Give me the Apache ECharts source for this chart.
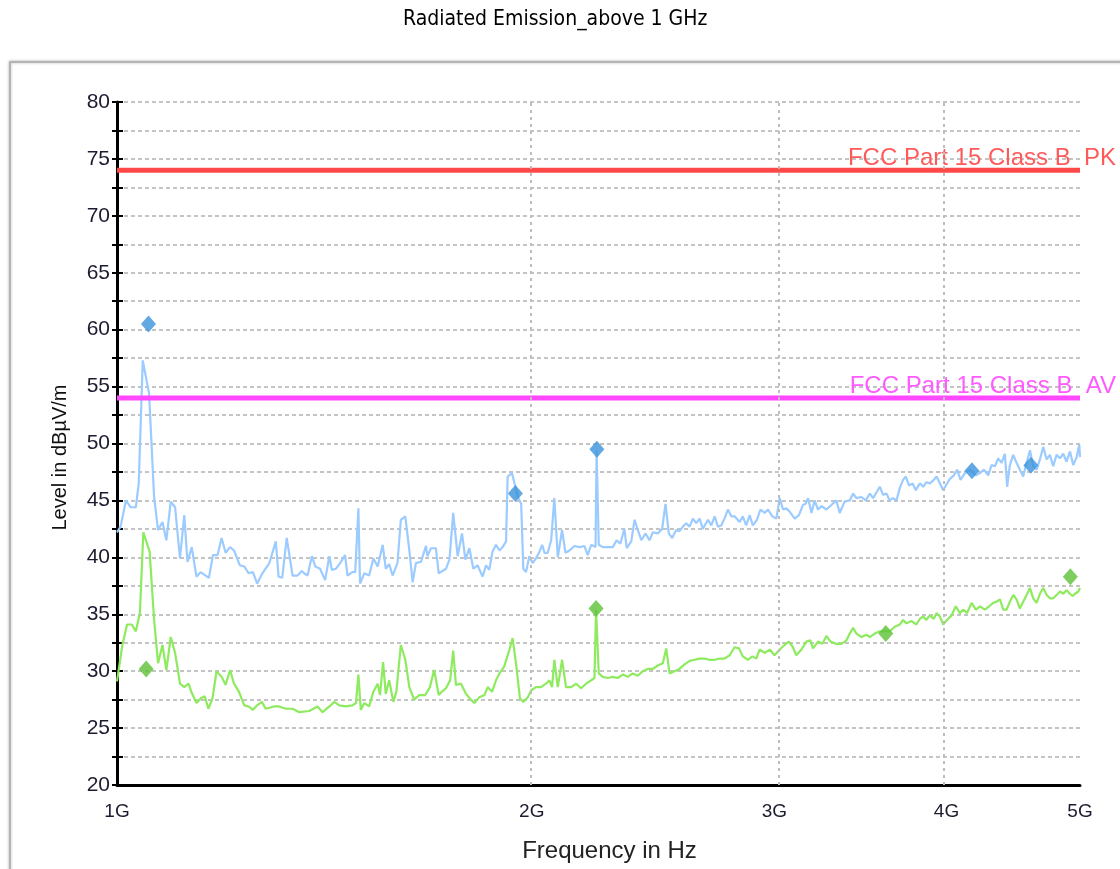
<!DOCTYPE html>
<html><head><meta charset="utf-8">
<script src="https://cdn.jsdelivr.net/npm/echarts@6/dist/echarts.min.js"></script>
<style>html,body{margin:0;padding:0;background:#fff;} #c{width:1120px;height:869px;}</style>
</head><body><div id="c"></div>
<script>
// Frequency in MHz, level in dBµV/m
const peakTrace = [[1000,42.2],[1006,42.7],[1015,45.0],[1023,44.4],[1032,44.4],[1037,46.5],[1044,57.3],[1055,54.4],[1064,45.3],[1071,42.4],[1079,43.1],[1086,41.5],[1094,44.9],[1102,44.4],[1111,39.9],[1119,43.7],[1125,39.6],[1133,40.9],[1142,38.3],[1150,38.7],[1166,38.2],[1174,40.2],[1183,40.2],[1191,41.7],[1199,40.4],[1208,40.9],[1216,40.6],[1228,39.3],[1237,39.2],[1246,38.6],[1255,38.7],[1264,37.7],[1275,38.6],[1290,39.5],[1304,41.4],[1310,38.3],[1318,38.2],[1328,41.7],[1341,38.4],[1352,38.4],[1362,38.8],[1367,38.6],[1375,38.4],[1385,40.1],[1393,39.2],[1404,39.0],[1416,38.0],[1426,40.1],[1432,38.9],[1442,39.0],[1454,39.6],[1464,40.2],[1470,38.4],[1482,38.7],[1489,38.7],[1497,44.3],[1501,37.7],[1512,38.6],[1524,38.4],[1535,39.9],[1546,39.2],[1559,41.1],[1567,39.0],[1576,39.4],[1585,38.4],[1598,39.5],[1607,43.3],[1619,43.6],[1630,40.6],[1639,37.8],[1648,39.5],[1662,39.6],[1676,41.0],[1680,40.1],[1690,40.8],[1704,40.8],[1712,38.6],[1733,39.0],[1743,39.8],[1754,43.9],[1767,40.1],[1780,42.1],[1790,39.8],[1802,40.8],[1814,39.0],[1827,39.3],[1842,38.3],[1853,39.3],[1863,38.9],[1873,40.5],[1884,41.1],[1895,40.6],[1905,40.9],[1916,41.4],[1921,47.1],[1935,47.4],[1954,45.3],[1965,44.7],[1972,39.0],[1981,38.7],[1992,40.1],[2003,39.5],[2014,39.9],[2026,40.5],[2035,41.1],[2043,40.4],[2054,40.4],[2066,41.5],[2077,45.2],[2089,40.0],[2104,42.4],[2116,40.4],[2130,40.6],[2148,41.0],[2166,40.9],[2184,41.0],[2196,40.2],[2209,41.1],[2225,40.9],[2229,49.4],[2237,41.1],[2252,40.9],[2271,40.9],[2290,40.9],[2305,41.5],[2319,41.2],[2335,42.5],[2344,40.8],[2362,41.4],[2375,43.3],[2388,42.4],[2402,41.5],[2419,42.1],[2435,41.5],[2449,42.2],[2469,42.1],[2487,42.5],[2501,44.7],[2515,42.1],[2529,41.7],[2546,42.4],[2560,42.3],[2575,42.7],[2589,43.0],[2604,42.7],[2618,43.4],[2633,43.0],[2648,43.4],[2662,42.5],[2685,43.3],[2700,42.8],[2715,43.6],[2730,42.7],[2745,42.8],[2760,43.4],[2776,44.2],[2792,43.6],[2807,43.6],[2831,43.1],[2846,43.6],[2862,42.8],[2879,43.7],[2894,42.8],[2914,43.3],[2931,44.2],[2952,43.9],[2968,44.2],[2990,43.6],[3010,43.4],[3027,45.2],[3044,44.2],[3061,44.3],[3078,44.0],[3104,43.4],[3126,43.7],[3147,44.6],[3161,44.7],[3174,45.2],[3192,43.9],[3209,45.0],[3227,44.2],[3246,44.5],[3273,44.2],[3300,44.6],[3328,45.0],[3346,43.9],[3374,44.9],[3403,45.0],[3422,45.6],[3441,45.2],[3470,45.3],[3495,45.0],[3519,45.6],[3538,45.2],[3558,45.7],[3578,46.2],[3598,45.5],[3618,45.6],[3638,45.0],[3658,45.2],[3679,45.0],[3700,46.1],[3720,46.8],[3737,47.1],[3758,46.3],[3779,46.5],[3800,45.9],[3826,46.5],[3847,46.2],[3868,46.6],[3890,46.5],[3916,46.8],[3934,47.1],[3956,46.5],[3978,45.9],[4000,46.4],[4023,46.9],[4050,47.2],[4072,47.7],[4095,46.8],[4125,47.4],[4160,47.7],[4201,47.2],[4230,47.4],[4258,47.7],[4289,47.2],[4313,48.1],[4337,48.0],[4361,48.7],[4386,48.3],[4410,49.1],[4427,46.2],[4447,48.1],[4472,49.0],[4497,48.3],[4522,47.7],[4547,47.1],[4573,48.3],[4599,49.4],[4624,48.0],[4650,47.7],[4676,48.6],[4702,49.7],[4729,48.6],[4755,49.0],[4781,48.0],[4808,49.0],[4835,48.7],[4862,49.1],[4889,48.4],[4917,49.3],[4944,48.1],[4972,48.8],[4994,49.9],[5000,48.8]];
const avgTrace = [[1000,29.1],[1009,32.3],[1017,34.1],[1025,34.1],[1032,33.5],[1039,35.1],[1045,42.2],[1056,40.5],[1064,34.5],[1071,30.7],[1079,32.3],[1086,30.1],[1094,33.0],[1102,31.6],[1111,28.9],[1119,28.6],[1127,28.9],[1133,28.1],[1142,27.2],[1150,27.6],[1158,27.8],[1165,26.7],[1173,27.6],[1181,30.0],[1191,29.5],[1199,28.8],[1208,30.1],[1216,28.9],[1226,28.2],[1237,27.0],[1246,26.9],[1255,26.6],[1264,27.0],[1274,27.3],[1282,26.7],[1300,26.9],[1311,26.9],[1326,26.7],[1341,26.7],[1356,26.4],[1379,26.5],[1398,26.9],[1410,26.4],[1426,26.9],[1438,27.3],[1450,27.0],[1466,26.9],[1482,27.0],[1491,27.2],[1497,29.7],[1503,26.6],[1512,27.2],[1524,26.9],[1535,28.2],[1546,28.9],[1552,27.9],[1560,30.8],[1567,28.0],[1576,29.2],[1587,27.3],[1595,28.2],[1607,32.3],[1619,31.0],[1630,28.6],[1643,27.5],[1657,27.9],[1674,27.9],[1687,28.6],[1699,30.1],[1712,27.9],[1721,28.2],[1733,28.5],[1745,29.2],[1754,31.8],[1762,28.8],[1777,28.9],[1792,28.0],[1807,27.5],[1817,27.2],[1832,27.7],[1848,27.9],[1858,28.6],[1872,28.2],[1884,29.2],[1895,29.8],[1910,30.4],[1927,31.9],[1937,32.9],[1948,30.7],[1961,27.6],[1972,27.3],[1987,27.7],[1998,28.3],[2014,28.6],[2031,28.6],[2048,28.9],[2060,29.2],[2069,28.6],[2077,31.0],[2089,28.6],[2104,31.0],[2118,28.6],[2136,28.6],[2154,28.9],[2172,28.5],[2190,28.9],[2209,29.2],[2221,29.4],[2227,35.4],[2237,29.8],[2252,29.5],[2271,29.4],[2290,29.5],[2309,29.4],[2329,29.7],[2348,29.5],[2368,29.8],[2388,29.6],[2408,30.0],[2428,30.2],[2449,30.2],[2469,30.5],[2490,30.7],[2504,32.0],[2518,29.8],[2539,30.0],[2560,30.2],[2582,30.6],[2604,30.9],[2625,31.0],[2648,31.1],[2670,31.1],[2692,31.0],[2715,31.0],[2738,31.1],[2760,31.1],[2784,31.4],[2807,32.1],[2828,32.0],[2846,31.3],[2870,31.0],[2892,31.3],[2911,31.1],[2927,31.9],[2952,31.6],[2977,31.9],[3001,31.4],[3027,31.9],[3052,32.3],[3074,32.6],[3095,32.1],[3112,31.4],[3139,31.9],[3165,32.6],[3186,32.7],[3200,32.0],[3227,32.6],[3251,32.4],[3273,33.1],[3295,32.6],[3324,32.4],[3356,32.4],[3384,32.7],[3403,33.3],[3422,33.8],[3441,33.3],[3470,33.0],[3499,33.2],[3519,33.0],[3548,33.3],[3578,33.5],[3638,33.5],[3669,33.9],[3700,34.1],[3720,34.5],[3741,34.2],[3773,34.4],[3804,34.1],[3826,34.6],[3847,34.8],[3868,34.5],[3890,34.9],[3916,34.6],[3934,35.1],[3956,34.8],[3978,34.1],[4004,34.5],[4034,34.9],[4063,35.7],[4090,35.1],[4113,35.4],[4140,35.1],[4171,36.0],[4201,35.4],[4230,35.7],[4265,35.4],[4296,35.7],[4325,36.0],[4349,36.1],[4374,36.3],[4398,35.4],[4422,35.4],[4447,36.1],[4472,36.7],[4497,36.3],[4522,35.5],[4547,36.1],[4573,36.7],[4599,37.3],[4624,36.4],[4650,36.0],[4676,36.8],[4702,37.3],[4729,36.7],[4755,36.4],[4781,36.4],[4808,36.7],[4835,37.0],[4862,36.8],[4889,37.1],[4917,36.8],[4939,36.6],[4958,36.8],[4986,37.0],[5000,37.3]];
const peakMarkers = [[1054,60.5],[1946,45.6],[2230,49.5],[4174,47.6],[4606,48.1]];
const avgMarkers = [[1050,30.2],[2227,35.5],[3614,33.3],[4920,38.3]];
const limitPK = 74;
const limitAV = 54;
const limitPKName = 'FCC Part 15 Class B  PK';
const limitAVName = 'FCC Part 15 Class B  AV';
const xTicksMHz = [1000, 2000, 3000, 4000, 5000];
const xTickLabels = ['1G', '2G', '3G', '4G', '5G'];
const xGridMHz = [2000, 3000, 4000, 5000];
const fMin = 1000, fMax = 5000;
const yMin = 20, yMax = 80, yStep = 2.5;

const lg = v => Math.log10(v);
const toXY = arr => arr.map(p => [lg(p[0]), p[1]]);

const chart = echarts.init(document.getElementById('c'), null, {renderer: 'canvas'});
const labelColor = '#1c1c30';
const option = {
  animation: false,
  title: {
    text: 'Radiated Emission_above 1 GHz',
    left: 398, top: 4,
    textStyle: {fontFamily: "'Liberation Sans Narrow', 'DejaVu Sans Condensed', 'Liberation Sans', sans-serif", fontSize: 21, fontWeight: 'normal', color: '#000'}
  },
  graphic: [{
    type: 'rect', silent: true, z: -10,
    shape: {x: 10, y: 62, width: 1140, height: 860},
    style: {fill: '#fff', stroke: '#b4b4b4', lineWidth: 2, shadowBlur: 3, shadowColor: 'rgba(0,0,0,0.25)'}
  }],
  grid: {left: 117, right: 40, top: 102, bottom: 84},
  xAxis: {
    type: 'value', min: lg(fMin), max: lg(fMax),
    name: 'Frequency in Hz', nameLocation: 'middle', nameGap: 54,
    nameTextStyle: {fontFamily: 'Liberation Sans', fontSize: 24, color: '#222', padding: [0, 0, 0, 22]},
    axisLine: {show: true, onZero: false, lineStyle: {color: '#000', width: 3}},
    axisTick: {show: false},
    axisLabel: {
      customValues: xTicksMHz.map(lg), margin: 17,
      fontFamily: 'Liberation Sans', fontSize: 19, color: labelColor,
      formatter: v => { const i = xTicksMHz.findIndex(t => Math.abs(lg(t) - v) < 1e-6); return i >= 0 ? xTickLabels[i] : ''; }
    },
    splitLine: {show: false}
  },
  yAxis: [{
    type: 'value', min: yMin, max: yMax, interval: yStep,
    name: 'Level in dBµV/m', nameLocation: 'middle', nameGap: 47,
    nameTextStyle: {fontFamily: 'Liberation Sans', fontSize: 20, color: '#111', padding: [0, 28, 0, 0]},
    axisLine: {show: true, lineStyle: {color: '#000', width: 3}},
    axisTick: {show: true, length: 5, lineStyle: {color: '#000', width: 2}},
    axisLabel: {margin: 7, fontFamily: 'Liberation Sans', fontSize: 21, color: labelColor,
      formatter: v => (v % 5 === 0 ? String(v) : '')},
    splitLine: {show: true, lineStyle: {color: '#c4c4c4', width: 2, type: [4, 3]}}
  }, {
    type: 'value', min: yMin, max: yMax, interval: yStep, position: 'left', offset: 0,
    axisLine: {show: false},
    axisTick: {show: true, inside: true, length: 6, lineStyle: {color: '#000', width: 2}},
    axisLabel: {show: false},
    splitLine: {show: false}
  }],
  series: [
    {
      type: 'line', data: [], silent: true,
      markLine: {
        silent: true, symbol: 'none', animation: false,
        label: {show: false},
        lineStyle: {color: '#bdbdbd', width: 2, type: [3, 4]},
        data: xGridMHz.map(v => ({xAxis: lg(v)}))
      }
    },
    {
      name: 'peak', type: 'line', data: toXY(peakTrace), showSymbol: false, symbol: 'none',
      lineStyle: {color: '#9ccbff', width: 2.2}, z: 3
    },
    {
      name: 'avg', type: 'line', data: toXY(avgTrace), showSymbol: false, symbol: 'none',
      lineStyle: {color: '#8eea5e', width: 2.2}, z: 3
    },
    {
      name: limitPKName, type: 'line', symbol: 'none', z: 4,
      data: [[lg(fMin), limitPK], [lg(fMax), limitPK]],
      lineStyle: {color: '#ff4848', width: 5},
      endLabel: {show: true, formatter: limitPKName, align: 'right', verticalAlign: 'bottom', distance: 36,
        fontFamily: 'Liberation Sans', fontSize: 24, color: '#ff5a5a'}
    },
    {
      name: limitAVName, type: 'line', symbol: 'none', z: 4,
      data: [[lg(fMin), limitAV], [lg(fMax), limitAV]],
      lineStyle: {color: '#ff48ff', width: 5},
      endLabel: {show: true, formatter: limitAVName, align: 'right', verticalAlign: 'bottom', distance: 36,
        fontFamily: 'Liberation Sans', fontSize: 24, color: '#ff5aff'}
    },
    {
      type: 'scatter', data: toXY(peakMarkers), symbol: 'diamond', symbolSize: [15, 17],
      itemStyle: {color: '#3b92db'}, z: 6
    },
    {
      type: 'scatter', data: toXY(avgMarkers), symbol: 'diamond', symbolSize: [15, 17],
      itemStyle: {color: '#5cc236'}, z: 6
    }
  ]
};
chart.setOption(option);
</script>
</body></html>
